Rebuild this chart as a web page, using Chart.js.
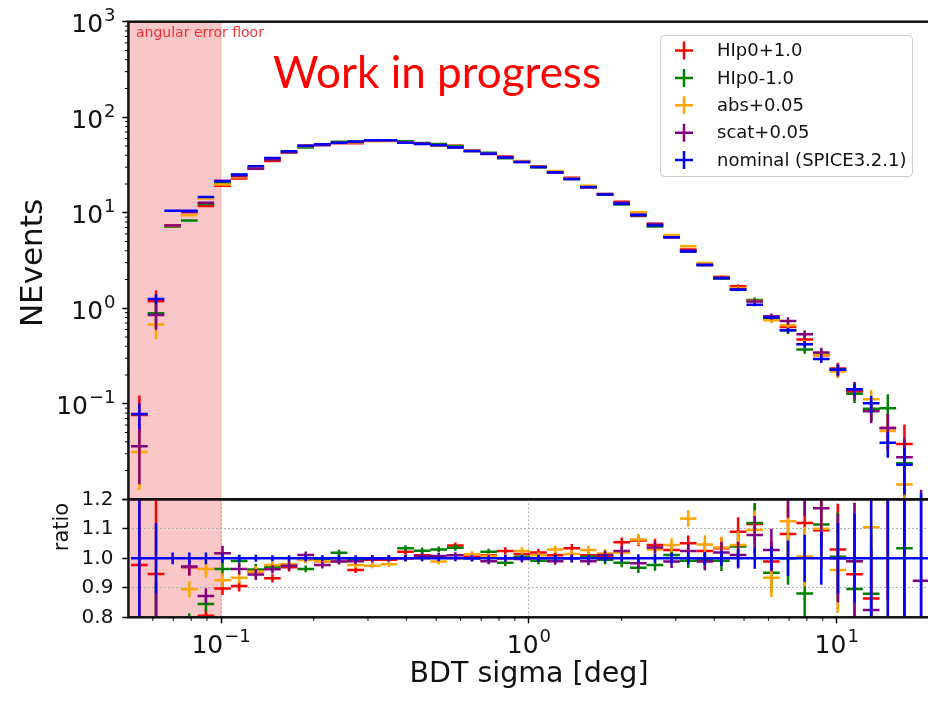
<!DOCTYPE html>
<html>
<head>
<meta charset="utf-8">
<script src="https://cdn.jsdelivr.net/npm/chart.js@4.4.1/dist/chart.umd.min.js"></script>
<style>
  html, body { margin: 0; padding: 0; background: #fff; overflow: hidden; }
  #wrap { position: relative; width: 928px; height: 701px; overflow: hidden; }
  canvas { position: absolute; left: 0; top: 0; }
</style>
</head>
<body>
<div id="wrap">
  <canvas id="topPanel" width="940" height="701"></canvas>
  <canvas id="ratioPanel" width="940" height="701"></canvas>
</div>
<script>
// bin edges in BDT sigma [deg] (log spaced, 48 bins)
const binEdges = [0.0510, 0.05776, 0.06542, 0.07409, 0.08391, 0.09500, 0.1076, 0.12185,
  0.1380, 0.15625, 0.17696, 0.2004, 0.2270, 0.2570, 0.2911, 0.3296, 0.3734, 0.4229,
  0.4786, 0.5421, 0.6140, 0.6953, 0.7876, 0.8918, 1.0100, 1.1437, 1.2951, 1.4670,
  1.6612, 1.8812, 2.1308, 2.4132, 2.7327, 3.0938, 3.5040, 3.9676, 4.4926, 5.0894,
  5.7636, 6.5268, 7.3917, 8.3730, 9.4806, 10.735, 12.158, 13.771, 15.595, 17.658, 20.0];

// nominal (SPICE3.2.1) events per bin
const nominal = [0.078, 1.25, 10.5, 10.5, 14.6, 21.3, 25.2, 30.6, 37.4, 44.0,
  50.0, 52.1, 54.2, 55.6, 57.4, 57.4, 54.2, 52.5, 50.8, 48.1,
  44.3, 41.6, 37.8, 34.0, 30.1, 26.5, 22.5, 18.6, 15.5, 12.4,
  9.53, 7.36, 5.55, 3.93, 2.85, 2.06, 1.56, 1.09, 0.80, 0.59,
  0.42, 0.294, 0.227, 0.142, 0.101, 0.039, 0.023, 0.008];

// relative errors
const nominalErr = [0.3, 0.12, 0.02, 0.02, 0.02, 0.015, 0.012, 0.012, 0.01, 0.01,
  0.01, 0.01, 0.01, 0.01, 0.01, 0.01, 0.01, 0.01, 0.01, 0.01,
  0.01, 0.01, 0.01, 0.01, 0.01, 0.01, 0.01, 0.01, 0.012, 0.012,
  0.014, 0.015, 0.017, 0.02, 0.022, 0.025, 0.03, 0.035, 0.04, 0.06,
  0.08, 0.09, 0.12, 0.15, 0.2, 0.3, 0.5, 0.45];
const variationErr = [0.6, 0.3, 0.03, 0.03, 0.03, 0.025, 0.02, 0.02, 0.015, 0.015,
  0.012, 0.012, 0.01, 0.01, 0.01, 0.01, 0.01, 0.01, 0.01, 0.01,
  0.01, 0.01, 0.012, 0.012, 0.012, 0.012, 0.014, 0.014, 0.015, 0.016,
  0.018, 0.02, 0.022, 0.025, 0.03, 0.035, 0.045, 0.06, 0.07, 0.09,
  0.1, 0.12, 0.15, 0.2, 0.25, 0.4, 0.6, 0.7];

// ratio to nominal for each variation
const ratioHIpUp = [0.977, 0.947, 0.70, 0.97, 0.805, 0.898, 0.906, 0.955, 0.932, 0.97,
  0.998, 0.99, 0.992, 0.96, 0.995, 0.995, 1.022, 1.01, 1.005, 1.043,
  1.005, 1.01, 1.025, 1.015, 1.02, 1.01, 1.034, 1.01, 1.005, 1.054,
  1.06, 1.045, 1.028, 1.051, 1.025, 1.034, 1.09, 1.116, 0.989, 1.082,
  1.12, 1.095, 1.03, 0.946, 0.864, 1.43, 1.65, null];
const ratioHIpDown = [null, 0.71, 0.68, 0.79, 0.845, 0.964, 0.991, 0.962, 0.97, 0.98,
  0.964, 0.994, 1.019, 0.996, 1.0, 1.0, 1.034, 1.026, 1.03, 1.036,
  1.0, 1.022, 0.985, 1.005, 0.992, 1.0, 1.0, 1.005, 0.995, 0.985,
  0.968, 0.977, 1.011, 0.992, 0.994, 0.992, 1.04, 1.12, 0.951, 1.0,
  0.881, 1.115, 1.005, 0.896, 0.88, 2.3, 1.034, null];
const ratioAbs = [0.40, 0.54, 0.69, 0.895, 0.964, 0.926, 0.934, 0.955, 0.977, 0.98,
  0.994, 0.99, 0.99, 0.977, 0.975, 0.98, 1.0, 1.0, 0.989, 1.0,
  1.014, 1.008, 1.0, 1.025, 1.01, 1.03, 1.015, 1.028, 1.016, 1.02,
  1.064, 1.03, 1.045, 1.135, 1.047, 1.037, 1.045, 1.096, 0.934, 1.126,
  1.006, 1.1, 0.96, 0.99, 1.105, 1.33, 0.62, null];
const ratioScat = [0.46, 0.68, 0.70, 0.972, 0.872, 1.017, 0.964, 0.945, 0.963, 0.975,
  1.011, 0.977, 0.989, 0.99, 0.998, 1.0, 1.0, 1.008, 1.008, 1.01,
  1.0, 0.99, 1.0, 0.998, 1.0, 0.99, 1.0, 0.99, 1.011, 1.025,
  0.983, 1.037, 0.989, 1.025, 0.989, 1.02, 1.011, 1.079, 1.028, 1.25,
  1.27, 1.17, 1.0, 0.99, 0.825, 1.43, 1.2, 0.924];

const seriesNames = ["HIp0+1.0", "HIp0-1.0", "abs+0.05", "scat+0.05", "nominal (SPICE3.2.1)"];
const seriesColors = ["#ff0000", "#008000", "#ffa500", "#800080", "#0000ff"];
const seriesRatios = [ratioHIpUp, ratioHIpDown, ratioAbs, ratioScat];

const xDecades = [0.1, 1, 10];
const yDecades = [0.01, 0.1, 1, 10, 100, 1000];
const yLabelled = [0.1, 1, 10, 100, 1000];
const ratioTicks = [0.8, 0.9, 1.0, 1.1, 1.2];
const floorEdge = 0.1;

const FONT = '"DejaVu Sans", sans-serif';

// errorbar as broken line: horizontal bin width + vertical error
function errorbarPoints(values, errs, floor) {
  const pts = [];
  values.forEach((v, i) => {
    if (v === null) return;
    const lo = binEdges[i], hi = binEdges[i + 1];
    const c = Math.sqrt(lo * hi);
    const e = Math.abs(v) * errs[i];
    pts.push({ x: lo, y: v }, { x: hi, y: v }, { x: c, y: null });
    pts.push({ x: c, y: Math.max(v - e, floor) }, { x: c, y: v + e }, { x: c, y: null });
  });
  return pts;
}

function makeDataset(label, color, pts, order) {
  return {
    label, data: pts, borderColor: color, backgroundColor: color,
    borderWidth: 2.5, pointRadius: 0, tension: 0, fill: false,
    spanGaps: false, borderCapStyle: 'butt', order, clip: 0
  };
}

const topDatasets = seriesRatios.map((r, k) => {
  const vals = nominal.map((v, i) => r[i] === null ? null : v * r[i]);
  return makeDataset(seriesNames[k], seriesColors[k], errorbarPoints(vals, variationErr, 1e-6), 4 - k);
});
topDatasets.push(makeDataset(seriesNames[4], seriesColors[4], errorbarPoints(nominal, nominalErr, 1e-6), 0));

const ratioDatasets = seriesRatios.map((r, k) =>
  makeDataset(seriesNames[k], seriesColors[k], errorbarPoints(r, variationErr, -5), 4 - k));
ratioDatasets.push(makeDataset(seriesNames[4], seriesColors[4],
  errorbarPoints(nominal.map(() => 1), nominalErr, -5), 0));

function drawPower(ctx, value, x, y, align) {
  const exp = Math.round(Math.log10(value));
  const sup = exp < 0 ? '\u2212' + Math.abs(exp) : String(exp);
  ctx.font = '25px ' + FONT;
  const wb = ctx.measureText('10').width;
  ctx.font = '18px ' + FONT;
  const ws = ctx.measureText(sup).width;
  const total = wb + 1 + ws;
  const x0 = align === 'right' ? x - total : x - total / 2;
  ctx.fillStyle = '#111';
  ctx.textAlign = 'left';
  ctx.textBaseline = 'alphabetic';
  ctx.font = '25px ' + FONT;
  ctx.fillText('10', x0, y);
  ctx.font = '18px ' + FONT;
  ctx.fillText(sup, x0 + wb + 1, y - 11);
}

const panelDecor = {
  id: 'panelDecor',
  beforeDraw(chart) {
    const { ctx, chartArea: a, scales } = chart;
    const x0 = scales.x.getPixelForValue(scales.x.min);
    const x1 = scales.x.getPixelForValue(floorEdge);
    ctx.save();
    ctx.fillStyle = 'rgba(235, 70, 70, 0.3)';
    ctx.fillRect(x0, a.top, x1 - x0, a.bottom - a.top);
    ctx.strokeStyle = 'rgba(235, 70, 70, 0.25)';
    ctx.lineWidth = 1;
    ctx.beginPath(); ctx.moveTo(x1, a.top); ctx.lineTo(x1, a.bottom); ctx.stroke();
    ctx.restore();
  },
  afterDraw(chart, args, opts) {
    const { ctx, chartArea: a, scales } = chart;
    ctx.save();
    // frame
    ctx.strokeStyle = '#111';
    ctx.lineWidth = 2.5;
    ctx.strokeRect(a.left, a.top, a.right - a.left, a.bottom - a.top);
    ctx.lineWidth = 1;
    ctx.strokeStyle = '#000';
    if (opts.panel === 'top') {
      // minor ticks on log y
      ctx.beginPath();
      yDecades.slice(0, -1).forEach(d => {
        for (let m = 2; m <= 9; m++) {
          const y = scales.y.getPixelForValue(d * m);
          ctx.moveTo(a.left - 3.5, y); ctx.lineTo(a.left, y);
        }
      });
      ctx.stroke();
      yLabelled.forEach(v => drawPower(ctx, v, 115.5, scales.y.getPixelForValue(v) + 10.5, 'right'));
      // y title
      ctx.save();
      ctx.translate(42, 263);
      ctx.rotate(-Math.PI / 2);
      ctx.font = '31px ' + FONT;
      ctx.fillStyle = '#111';
      ctx.textAlign = 'center';
      ctx.fillText('NEvents', 0, 0);
      ctx.restore();
      // shaded region note
      ctx.font = '14px ' + FONT;
      ctx.fillStyle = 'rgba(230, 20, 20, 0.85)';
      ctx.textAlign = 'left';
      ctx.fillText('angular error floor', 136, 36.5);
      // watermark
      ctx.font = '44px Lato, "Liberation Sans", sans-serif';
      ctx.fillStyle = '#ff0000';
      ctx.fillText('Work in progress', 273, 88);
      // legend
      ctx.beginPath();
      ctx.roundRect(660.5, 35.5, 252, 141, 4);
      ctx.fillStyle = 'rgba(255,255,255,0.85)';
      ctx.fill();
      ctx.strokeStyle = '#cccccc';
      ctx.lineWidth = 1;
      ctx.stroke();
      seriesNames.forEach((name, i) => {
        const y = 50.5 + i * 27.4;
        ctx.strokeStyle = seriesColors[i];
        ctx.lineWidth = 2.5;
        ctx.beginPath();
        ctx.moveTo(675, y); ctx.lineTo(693, y);
        ctx.moveTo(684, y - 9); ctx.lineTo(684, y + 9);
        ctx.stroke();
        ctx.fillStyle = '#111';
        ctx.font = '18px ' + FONT;
        ctx.textBaseline = 'middle';
        ctx.fillText(name, 717, y + 1);
      });
    } else {
      // minor ticks on log x
      ctx.beginPath();
      [0.01, 0.1, 1].forEach(d => {
        for (let m = 2; m <= 9; m++) {
          const v = d * m;
          if (v <= scales.x.min || v >= scales.x.max) continue;
          const x = scales.x.getPixelForValue(v);
          ctx.moveTo(x, a.bottom); ctx.lineTo(x, a.bottom + 3.5);
        }
      });
      ctx.stroke();
      xDecades.forEach(v => drawPower(ctx, v, scales.x.getPixelForValue(v), 653, 'center'));
      ctx.fillStyle = '#111';
      ctx.textAlign = 'center';
      ctx.textBaseline = 'alphabetic';
      ctx.font = '28.5px ' + FONT;
      ctx.fillText('BDT sigma [deg]', 529, 682);
      ctx.save();
      ctx.translate(68, 527);
      ctx.rotate(-Math.PI / 2);
      ctx.font = '21px ' + FONT;
      ctx.fillText('ratio', 0, 0);
      ctx.restore();
    }
    ctx.restore();
  }
};

const common = {
  responsive: false, animation: false, devicePixelRatio: 1, events: []
};

new Chart(document.getElementById('topPanel'), {
  type: 'line',
  data: { datasets: topDatasets },
  options: {
    ...common,
    layout: { padding: { left: 0, right: 10.6, top: 21.7, bottom: 201.7 } },
    plugins: { legend: { display: false }, tooltip: { enabled: false }, panelDecor: { panel: 'top' } },
    scales: {
      x: { type: 'logarithmic', min: 0.05, max: 20, display: false },
      y: {
        type: 'logarithmic', min: 0.01, max: 1000,
        afterBuildTicks: ax => { ax.ticks = yDecades.map(v => ({ value: v })); },
        afterFit: ax => { ax.width = 128.4; },
        ticks: { display: false },
        grid: { drawOnChartArea: false, drawTicks: true, tickLength: 6, tickColor: '#000', tickWidth: 1.5 },
        border: { display: false }
      }
    }
  },
  plugins: [panelDecor]
});

new Chart(document.getElementById('ratioPanel'), {
  type: 'line',
  data: { datasets: ratioDatasets },
  options: {
    ...common,
    layout: { padding: { left: 0, right: 10.6, top: 499.3, bottom: 0 } },
    plugins: { legend: { display: false }, tooltip: { enabled: false }, panelDecor: { panel: 'ratio' } },
    scales: {
      x: {
        type: 'logarithmic', min: 0.05, max: 20,
        afterBuildTicks: ax => { ax.ticks = xDecades.map(v => ({ value: v })); },
        afterFit: ax => { ax.height = 701 - 617.3; },
        ticks: { display: false },
        grid: { color: '#b0b0b0', lineWidth: 1, tickLength: 6, tickColor: '#000', tickWidth: 1.5 },
        border: { display: false, dash: [2, 2] }
      },
      y: {
        type: 'linear', min: 0.8, max: 1.2,
        afterBuildTicks: ax => { ax.ticks = ratioTicks.map(v => ({ value: v })); },
        afterFit: ax => { ax.width = 128.4; },
        ticks: { font: { family: 'DejaVu Sans', size: 20 }, color: '#111', padding: 9,
                 callback: v => Number(v).toFixed(1) },
        grid: { color: '#b0b0b0', lineWidth: 1, tickLength: 6, tickColor: '#000', tickWidth: 1.5 },
        border: { display: false, dash: [2, 2] }
      }
    }
  },
  plugins: [panelDecor]
});
</script>
</body>
</html>
